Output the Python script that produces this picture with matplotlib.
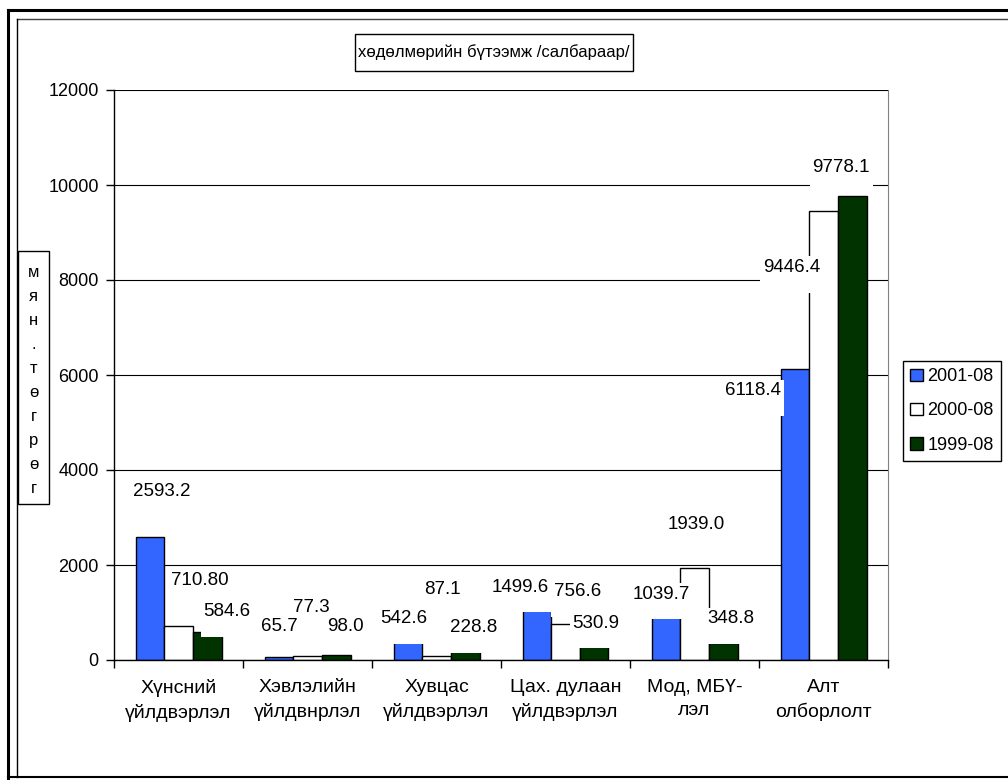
import numpy as np
import matplotlib.pyplot as plt
from matplotlib.patches import Patch, Rectangle
from matplotlib.lines import Line2D

plt.rcParams['font.family'] = ['Liberation Sans', 'DejaVu Sans']

# data
categories = ["Хүнсний\nүйлдвэрлэл", "Хэвлэлийн\nүйлдвнрлэл", "Хувцас\nүйлдвэрлэл",
              "Цах. дулаан\nүйлдвэрлэл", "Мод, МБҮ-\nлэл", "Алт\nолборлолт"]
series_names = ['2001-08', '2000-08', '1999-08']
v2001 = [2593.2, 65.7, 542.6, 1499.6, 1039.7, 6118.4]
v2000 = [710.8, 77.3, 87.1, 756.6, 1939.0, 9446.4]
v1999 = [584.6, 98.0, 228.8, 530.9, 348.8, 9778.1]
dec2001 = [1, 1, 1, 1, 1, 1]
dec2000 = [2, 1, 1, 1, 1, 1]
dec1999 = [1, 1, 1, 1, 1, 1]

colors = ['#3366ff', '#ffffff', '#003300']

# label offsets (pixels, label centre relative to bar top) - dragged by hand in original
off2001 = [(12, 44), (1, 29), (-4, 14), (-17, 0), (-5, 15), (-42, -23)]
off2000 = [(21, 44), (4, 47), (6, 65), (12, 31), (2, 42), (-32, -58)]
off1999 = [(20, 19), (9, 27), (8, 20), (2, 10), (8, 23), (-11, 27)]
label_z = [5, 4, 6]

W, H = 1008, 780
fig = plt.figure(figsize=(W / 100, H / 100), dpi=100)


def fx(p):
    return p / W


def fy(p):
    return 1 - p / H


ax = fig.add_axes([fx(114), fy(660), (888 - 114) / W, (660 - 90) / H])

w = 1 / 4.5
x = np.arange(len(categories))
all_vals = [v2001, v2000, v1999]
all_decs = [dec2001, dec2000, dec1999]
all_offs = [off2001, off2000, off1999]

for j in range(3):
    bars = ax.bar(x + (j - 1) * w, all_vals[j], w, color=colors[j],
                  edgecolor='black', linewidth=1.0, zorder=2)
    for b, v, d, (dx, dy) in zip(bars, all_vals[j], all_decs[j], all_offs[j]):
        # trailing newline makes the white label box hang down like in Excel
        ax.annotate(f"{v:.{d}f}\n", xy=(b.get_x() + b.get_width() / 2, v),
                    xytext=(dx, dy + 10), textcoords='offset pixels',
                    ha='center', va='top', fontsize=13.5, linespacing=0.75,
                    bbox=dict(boxstyle='square,pad=0.15', fc='white', ec='none'),
                    zorder=label_z[j])

ax.set_xlim(-0.5, 5.5)
ax.set_ylim(0, 12000)
ax.set_yticks(np.arange(0, 12001, 2000))
ax.yaxis.grid(True, color='black', lw=0.8)
ax.set_axisbelow(True)
ax.set_xticks(x)
ax.set_xticklabels(categories, fontsize=14, linespacing=1.45)
ax.set_xticks(np.arange(-0.5, 6, 1), minor=True)
ax.tick_params(axis='x', which='major', length=0, pad=14)
ax.tick_params(axis='x', which='minor', length=6, width=1, direction='out')
ax.tick_params(axis='y', length=6, width=1, labelsize=13, pad=5)
ax.spines['top'].set_visible(False)
ax.spines['right'].set_color('#808080')
for s in ['left', 'bottom']:
    ax.spines[s].set_linewidth(1)

# title box
fig.add_artist(Rectangle((fx(355), fy(71)), (633 - 355) / W, (71 - 34) / H,
                         transform=fig.transFigure, fill=False, ec='black', lw=1))
fig.text(fx(494), fy(52.5), 'хөдөлмөрийн бүтээмж /салбараар/',
         ha='center', va='center', fontsize=12)

# y label box
fig.add_artist(Rectangle((fx(18), fy(504)), (49 - 18) / W, (504 - 251) / H,
                         transform=fig.transFigure, fill=False, ec='black', lw=1))
fig.text(fx(33.5), fy(380), '\n'.join('мян.төгрөг'), ha='center', va='center',
         fontsize=12, linespacing=1.75)

# legend
handles = [Patch(facecolor=c, edgecolor='black', lw=1) for c in colors]
leg = fig.legend(handles, series_names, loc='upper left',
                 bbox_to_anchor=(fx(903), fy(361)), fontsize=13,
                 handlelength=0.7, handleheight=0.7, handletextpad=0.25,
                 labelspacing=0.95, borderpad=0.4, borderaxespad=0,
                 fancybox=False, framealpha=1, edgecolor='black')
leg.get_frame().set_linewidth(1)

# chart frames
fig.add_artist(Line2D([fx(8), 1], [fy(10), fy(10)], color='black', lw=2.2,
                      transform=fig.transFigure))
fig.add_artist(Line2D([fx(8), fx(8)], [fy(10), 0], color='black', lw=2.2,
                      transform=fig.transFigure))
fig.add_artist(Line2D([fx(17), 1], [fy(19), fy(19)], color='#404040', lw=1,
                      transform=fig.transFigure))
fig.add_artist(Line2D([fx(17), fx(17)], [fy(19), fy(777)], color='black', lw=1,
                      transform=fig.transFigure))
fig.add_artist(Line2D([fx(8), 1], [fy(777), fy(777)], color='black', lw=1.5,
                      transform=fig.transFigure))

fig.savefig('out.png', dpi=100)
